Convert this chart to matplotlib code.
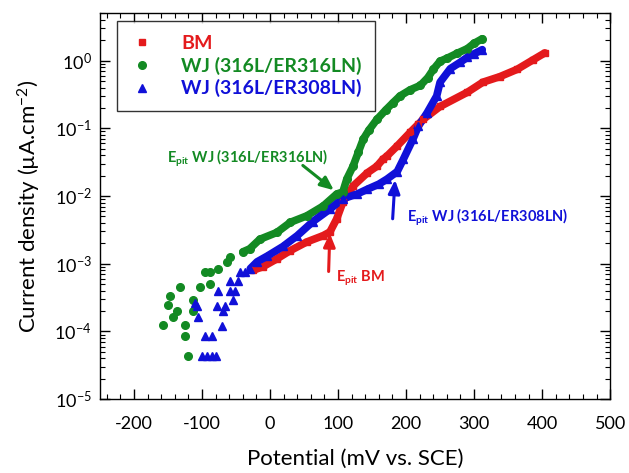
import numpy as np
import matplotlib
matplotlib.use("Agg")
import matplotlib.pyplot as plt
from matplotlib.ticker import MultipleLocator, LogLocator, NullFormatter, FixedLocator

plt.rcParams['font.family'] = ['Lato', 'DejaVu Sans']
plt.rcParams['mathtext.fontset'] = 'custom'
plt.rcParams['mathtext.rm'] = 'Lato'
plt.rcParams['mathtext.it'] = 'Lato:italic'
plt.rcParams['mathtext.bf'] = 'Lato:bold'
plt.rcParams['axes.unicode_minus'] = False

# Potentiodynamic polarisation data: potential (mV vs. SCE), current density (uA/cm^2)
bm_E = [-25, -10, 10, 29, 54, 78, 88, 98, 107, 122, 143, 157, 166, 172, 187,
        206, 218, 225, 250, 290, 313, 338, 363, 387, 404]
bm_I = [8.0e-4, 9.1e-4, 1.18e-3, 1.55e-3, 2.1e-3, 2.6e-3, 2.95e-3, 4.6e-3, 8.1e-3,
        1.4e-2, 2.2e-2, 2.75e-2, 3.5e-2, 3.9e-2, 5.5e-2, 8.7e-2, 0.115, 0.135, 0.21,
        0.34, 0.48, 0.58, 0.74, 1.03, 1.3]

wj316_E = [-157, -125, -121, -125, -143, -137, -150, -147, -132, -113, -113, -103,
           -96, -88, -88, -76, -63, -59, -40, -30, -15, 10, 30, 54, 78, 98, 107,
           113, 122, 130, 137, 145, 157, 170, 181, 191, 206, 221, 232, 240, 250,
           260, 275, 290, 300, 312]
wj316_I = [1.23e-4, 1.23e-4, 4.3e-5, 8.5e-5, 1.66e-4, 2.0e-4, 2.5e-4, 3.3e-4, 4.6e-4,
           2.9e-4, 2.0e-4, 4.6e-4, 7.6e-4, 7.6e-4, 5.1e-4, 8.5e-4, 1.07e-3, 1.26e-3,
           1.5e-3, 1.66e-3, 2.3e-3, 2.9e-3, 4.1e-3, 5.1e-3, 7.1e-3, 1.07e-2, 1.15e-2,
           1.8e-2, 2.75e-2, 4.5e-2, 6.9e-2, 9.3e-2, 0.135, 0.186, 0.24, 0.30, 0.37,
           0.43, 0.56, 0.74, 0.98, 1.08, 1.28, 1.5, 1.8, 2.1]

wj308_E = [-100, -93, -86, -79, -96, -85, -70, -106, -110, -107, -78, -69, -66,
           -54, -76, -59, -51, -59, -47, -44, -37, -29, -19, -4, 19, 40, 63, 88,
           107, 128, 143, 160, 172, 187, 196, 210, 218, 231, 245, 250, 265, 280,
           290, 300, 312]
wj308_I = [4.3e-5, 4.3e-5, 4.3e-5, 4.3e-5, 8.5e-5, 8.5e-5, 1.2e-4, 1.66e-4, 2.6e-4,
           2.4e-4, 2.4e-4, 2.0e-4, 2.4e-4, 2.9e-4, 4.0e-4, 4.0e-4, 4.0e-4, 5.5e-4,
           5.5e-4, 7.6e-4, 7.6e-4, 8.5e-4, 1.07e-3, 1.3e-3, 1.8e-3, 2.6e-3, 4.2e-3,
           6.4e-3, 9.1e-3, 1.07e-2, 1.26e-2, 1.5e-2, 1.78e-2, 2.3e-2, 3.5e-2, 6.9e-2,
           0.107, 0.17, 0.30, 0.48, 0.76, 0.95, 1.12, 1.26, 1.45]

# potential above which each scan is recorded densely enough to read as a band
bm_dense_from = -30
wj316_dense_from = -45
wj308_dense_from = -35

RED = '#e41a1c'
GREEN = '#138a23'
BLUE = '#1010d8'

fig = plt.figure(figsize=(6.29, 4.73), dpi=100)
ax = fig.add_axes([0.159, 0.156, 0.811, 0.816])

def draw(E, I, start, color, marker, ms, label):
    E = np.asarray(E, float)
    I = np.asarray(I, float)
    dense = E >= start
    order = np.argsort(E[dense])
    ax.plot(E[dense][order], I[dense][order], '-', color=color, lw=5.5,
            solid_capstyle='round', zorder=2)
    ax.plot(E, I, linestyle='none', marker=marker, ms=ms, color=color,
            mec=color, label=label, zorder=3)

draw(bm_E, bm_I, bm_dense_from, RED, 's', 5, 'BM')
draw(wj316_E, wj316_I, wj316_dense_from, GREEN, 'o', 5.5, 'WJ (316L/ER316LN)')
draw(wj308_E, wj308_I, wj308_dense_from, BLUE, '^', 5.5, 'WJ (316L/ER308LN)')

ax.set_yscale('log')
ax.set_xlim(-250, 500)
ax.set_ylim(1e-5, 5)
ax.xaxis.set_major_locator(FixedLocator([-200, -100, 0, 100, 200, 300, 400, 500]))
ax.xaxis.set_minor_locator(MultipleLocator(20))
ax.yaxis.set_minor_locator(LogLocator(base=10, subs=np.arange(2, 10), numticks=20))
ax.yaxis.set_minor_formatter(NullFormatter())
ax.set_yticks([1e-5, 1e-4, 1e-3, 1e-2, 1e-1, 1e0])
ax.set_yticklabels([r'10$^{-5}$', r'10$^{-4}$', r'10$^{-3}$', r'10$^{-2}$',
                    r'10$^{-1}$', r'10$^{0}$'])
ax.tick_params(which='both', direction='in', top=True, right=True, labelsize=13)
ax.tick_params(which='major', length=7, width=1)
ax.tick_params(which='minor', length=3.5, width=0.8)
ax.tick_params(axis='x', pad=12)
ax.tick_params(axis='y', pad=6)
for s in ax.spines.values():
    s.set_linewidth(1.0)

ax.set_xlabel('Potential (mV vs. SCE)', fontsize=16, labelpad=12)
ax.set_ylabel(r'Current density (µA.cm$^{-2}$)', fontsize=16, labelpad=8)

leg = ax.legend(loc='upper left', bbox_to_anchor=(0.033, 0.98), frameon=True,
                fancybox=False, edgecolor='black', fontsize=14, handlelength=1.2,
                handletextpad=1.4, borderpad=0.7, labelspacing=0.25, borderaxespad=0)
leg.get_frame().set_linewidth(1.0)
for txt, c in zip(leg.get_texts(), [RED, GREEN, BLUE]):
    txt.set_color(c)
    txt.set_fontweight('bold')

# pitting potential markers
arrow = dict(arrowstyle='-|>,head_length=0.8,head_width=0.35', lw=2.2)
ax.annotate('', xy=(97, 1.15e-2), xytext=(45, 3.0e-2),
            arrowprops=dict(arrow, color=GREEN))
ax.text(-152, 3.6e-2, r'$\mathbf{E}_{\mathbf{pit}}$ WJ (316L/ER316LN)', color=GREEN,
        fontsize=10.5, fontweight='bold', va='center')

ax.annotate('', xy=(88, 3.1e-3), xytext=(86, 7.0e-4),
            arrowprops=dict(arrow, color=RED))
ax.text(97, 6.0e-4, r'$\mathbf{E}_{\mathbf{pit}}$ BM', color=RED,
        fontsize=10.5, fontweight='bold', va='center')

ax.annotate('', xy=(184, 1.9e-2), xytext=(180, 4.2e-3),
            arrowprops=dict(arrow, color=BLUE))
ax.text(201, 4.9e-3, r'$\mathbf{E}_{\mathbf{pit}}$ WJ (316L/ER308LN)', color=BLUE,
        fontsize=10.5, fontweight='bold', va='center')

fig.savefig('out.png', dpi=100)
